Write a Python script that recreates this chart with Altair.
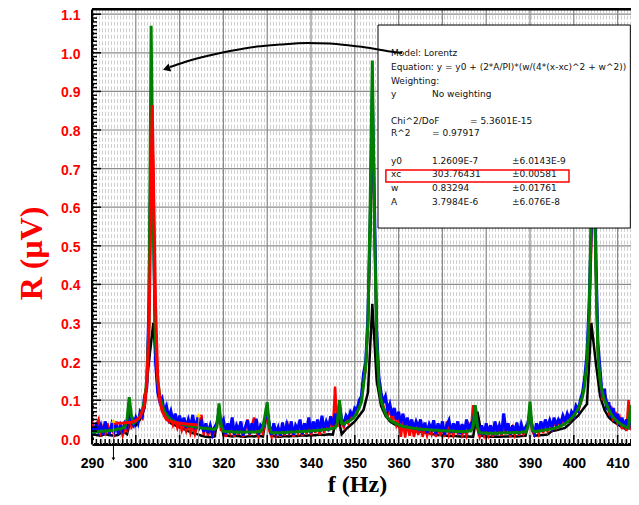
import altair as alt
import pandas as pd

# ------------------------------------------------------------------ data
# sweep frequency (Hz) for the 0.5 Hz sampled traces, 290 ... 415
freq = [round(290 + 0.5 * i, 1) for i in range(251)]
# black trace sampled every 1 Hz
freq_black = list(range(290, 416))

green = [
    0.018, 0.017, 0.019, 0.018, 0.020, 0.019, 0.021, 0.020, 0.022, 0.021,
    0.023, 0.024, 0.026, 0.025, 0.028, 0.030, 0.050, 0.108, 0.060, 0.040,
    0.045, 0.050, 0.060, 0.075, 0.100, 0.150, 0.300, 1.070, 0.550, 0.250,
    0.150, 0.110, 0.088, 0.072, 0.062, 0.055, 0.050, 0.046, 0.044, 0.042,
    0.040, 0.038, 0.037, 0.035, 0.034, 0.033, 0.032, 0.031, 0.030, 0.029,
    0.028, 0.027, 0.027, 0.026, 0.026, 0.025, 0.025, 0.030, 0.092, 0.035,
    0.020, 0.019, 0.018, 0.019, 0.018, 0.017, 0.018, 0.017, 0.018, 0.017,
    0.017, 0.018, 0.017, 0.018, 0.017, 0.018, 0.019, 0.018, 0.030, 0.060,
    0.095, 0.030, 0.016, 0.015, 0.016, 0.015, 0.016, 0.017, 0.016, 0.017,
    0.017, 0.018, 0.017, 0.018, 0.019, 0.018, 0.019, 0.020, 0.019, 0.020,
    0.020, 0.021, 0.021, 0.022, 0.022, 0.023, 0.024, 0.024, 0.025, 0.026,
    0.027, 0.028, 0.040, 0.100, 0.040, 0.038, 0.042, 0.045, 0.048, 0.052,
    0.058, 0.068, 0.080, 0.095, 0.140, 0.190, 0.300, 0.600, 0.980, 0.550,
    0.250, 0.140, 0.100, 0.080, 0.065, 0.055, 0.049, 0.045, 0.042, 0.039,
    0.036, 0.034, 0.032, 0.031, 0.030, 0.029, 0.028, 0.027, 0.026, 0.026,
    0.025, 0.025, 0.024, 0.024, 0.023, 0.023, 0.022, 0.022, 0.022, 0.021,
    0.021, 0.021, 0.020, 0.020, 0.020, 0.020, 0.019, 0.019, 0.019, 0.019,
    0.019, 0.019, 0.020, 0.020, 0.030, 0.087, 0.030, 0.016, 0.015, 0.015,
    0.015, 0.014, 0.015, 0.014, 0.015, 0.014, 0.015, 0.015, 0.016, 0.015,
    0.016, 0.015, 0.016, 0.016, 0.017, 0.016, 0.017, 0.018, 0.017, 0.030,
    0.096, 0.025, 0.018, 0.019, 0.020, 0.021, 0.022, 0.023, 0.024, 0.025,
    0.026, 0.027, 0.029, 0.031, 0.033, 0.036, 0.039, 0.043, 0.048, 0.054,
    0.060, 0.068, 0.078, 0.092, 0.110, 0.140, 0.200, 0.320, 0.600, 0.900,
    0.450, 0.220, 0.150, 0.120, 0.100, 0.088, 0.075, 0.065, 0.056, 0.050,
    0.044, 0.040, 0.036, 0.033, 0.030, 0.028, 0.087, 0.030, 0.022, 0.020,
    0.020,
]

blue = [
    0.030, 0.012, 0.042, 0.020, 0.035, 0.010, 0.045, 0.025, 0.015, 0.038,
    0.020, 0.044, 0.012, 0.035, 0.022, 0.040, 0.030, 0.092, 0.045, 0.035,
    0.055, 0.040, 0.070, 0.060, 0.110, 0.130, 0.350, 0.800, 0.600, 0.200,
    0.120, 0.095, 0.105, 0.070, 0.085, 0.055, 0.072, 0.045, 0.065, 0.040,
    0.060, 0.035, 0.055, 0.028, 0.050, 0.030, 0.062, 0.025, 0.048, 0.030,
    0.045, 0.018, 0.040, 0.015, 0.035, 0.012, 0.030, 0.040, 0.070, 0.040,
    0.050, 0.012, 0.040, 0.020, 0.055, 0.010, 0.035, 0.022, 0.045, 0.008,
    0.030, 0.048, 0.012, 0.040, 0.018, 0.052, 0.010, 0.035, 0.028, 0.050,
    0.075, 0.035, 0.010, 0.040, 0.015, 0.030, 0.008, 0.042, 0.012, 0.038,
    0.020, 0.045, 0.010, 0.035, 0.025, 0.050, 0.012, 0.040, 0.020, 0.055,
    0.015, 0.045, 0.025, 0.050, 0.018, 0.060, 0.022, 0.045, 0.030, 0.058,
    0.035, 0.065, 0.045, 0.090, 0.050, 0.040, 0.060, 0.050, 0.070, 0.060,
    0.080, 0.075, 0.100, 0.110, 0.170, 0.200, 0.320, 0.550, 0.900, 0.600,
    0.280, 0.160, 0.120, 0.095, 0.110, 0.075, 0.090, 0.060, 0.080, 0.050,
    0.070, 0.040, 0.065, 0.035, 0.055, 0.030, 0.050, 0.025, 0.045, 0.030,
    0.050, 0.020, 0.042, 0.015, 0.038, 0.025, 0.048, 0.012, 0.040, 0.020,
    0.045, 0.010, 0.035, 0.048, 0.015, 0.040, 0.020, 0.045, 0.012, 0.038,
    0.015, 0.050, 0.020, 0.040, 0.045, 0.075, 0.035, 0.012, 0.035, 0.010,
    0.040, 0.015, 0.035, 0.010, 0.045, 0.020, 0.035, 0.012, 0.066, 0.020,
    0.040, 0.010, 0.035, 0.015, 0.042, 0.012, 0.038, 0.020, 0.030, 0.040,
    0.070, 0.030, 0.015, 0.040, 0.020, 0.045, 0.025, 0.050, 0.030, 0.048,
    0.030, 0.055, 0.035, 0.050, 0.040, 0.060, 0.045, 0.065, 0.050, 0.070,
    0.060, 0.085, 0.075, 0.100, 0.120, 0.160, 0.220, 0.350, 0.550, 0.800,
    0.500, 0.250, 0.180, 0.110, 0.130, 0.075, 0.095, 0.055, 0.080, 0.045,
    0.065, 0.035, 0.055, 0.030, 0.050, 0.025, 0.060, 0.045, 0.035, 0.050,
    0.030,
]

red = [
    0.045, 0.020, 0.035, 0.050, 0.015, 0.030, 0.010, 0.040, 0.020, 0.030,
    0.012, 0.035, 0.018, 0.030, 0.008, 0.025, 0.020, 0.060, 0.030, 0.040,
    0.050, 0.045, 0.065, 0.055, 0.100, 0.140, 0.300, 0.850, 0.700, 0.260,
    0.140, 0.100, 0.080, 0.065, 0.060, 0.045, 0.055, 0.035, 0.050, 0.028,
    0.045, 0.022, 0.040, 0.020, 0.038, 0.015, 0.035, 0.012, 0.030, 0.040,
    0.062, 0.010, 0.035, 0.008, 0.030, 0.005, 0.025, 0.035, 0.060, 0.020,
    0.040, 0.005, 0.030, 0.015, 0.045, 0.005, 0.030, 0.010, 0.040, 0.005,
    0.025, 0.050, 0.008, 0.035, 0.055, 0.020, 0.005, 0.030, 0.015, 0.040,
    0.065, 0.020, 0.005, 0.035, 0.008, 0.025, 0.005, 0.030, 0.008, 0.045,
    0.010, 0.040, 0.005, 0.030, 0.015, 0.045, 0.008, 0.035, 0.012, 0.048,
    0.008, 0.040, 0.015, 0.045, 0.010, 0.050, 0.015, 0.040, 0.020, 0.050,
    0.025, 0.135, 0.030, 0.080, 0.040, 0.030, 0.050, 0.040, 0.060, 0.055,
    0.070, 0.065, 0.090, 0.100, 0.150, 0.180, 0.300, 0.500, 0.850, 0.550,
    0.260, 0.150, 0.110, 0.085, 0.070, 0.060, 0.075, 0.045, 0.065, 0.035,
    0.050, 0.005, 0.045, 0.003, 0.040, 0.008, 0.035, 0.005, 0.030, 0.010,
    0.035, 0.005, 0.030, 0.008, 0.028, 0.012, 0.035, 0.005, 0.030, 0.008,
    0.030, 0.005, 0.045, 0.010, 0.025, 0.008, 0.030, 0.015, 0.035, 0.010,
    0.025, 0.008, 0.035, 0.020, 0.087, 0.060, 0.025, 0.005, 0.025, 0.008,
    0.030, 0.008, 0.025, 0.005, 0.035, 0.010, 0.030, 0.008, 0.040, 0.012,
    0.030, 0.005, 0.028, 0.010, 0.032, 0.008, 0.030, 0.012, 0.025, 0.035,
    0.080, 0.020, 0.010, 0.030, 0.012, 0.035, 0.015, 0.040, 0.020, 0.040,
    0.025, 0.045, 0.030, 0.045, 0.035, 0.050, 0.040, 0.055, 0.045, 0.060,
    0.055, 0.075, 0.070, 0.090, 0.110, 0.150, 0.200, 0.300, 0.500, 0.750,
    0.450, 0.230, 0.160, 0.100, 0.120, 0.100, 0.070, 0.085, 0.045, 0.070,
    0.040, 0.055, 0.025, 0.045, 0.020, 0.100, 0.030, 0.015, 0.040, 0.020,
    0.025,
]

black = [
    0.012, 0.010, 0.008, 0.012, 0.010, 0.008, 0.010, 0.020, 0.012, 0.060,
    0.035, 0.050, 0.080, 0.200, 0.300, 0.130, 0.080, 0.055, 0.040, 0.035,
    0.030, 0.025, 0.020, 0.015, 0.012, 0.008, 0.005, 0.004, 0.006, 0.070,
    0.010, 0.008, 0.006, 0.008, 0.006, 0.005, 0.007, 0.006, 0.008, 0.006,
    0.070, 0.008, 0.006, 0.005, 0.007, 0.006, 0.008, 0.007, 0.009, 0.008,
    0.010, 0.009, 0.011, 0.010, 0.012, 0.011, 0.070, 0.012, 0.025, 0.035,
    0.045, 0.060, 0.075, 0.120, 0.350, 0.150, 0.085, 0.060, 0.045, 0.038,
    0.032, 0.028, 0.025, 0.022, 0.020, 0.018, 0.016, 0.014, 0.012, 0.010,
    0.009, 0.008, 0.007, 0.007, 0.006, 0.006, 0.006, 0.005, 0.070, 0.008,
    0.006, 0.005, 0.006, 0.005, 0.006, 0.006, 0.007, 0.006, 0.007, 0.008,
    0.060, 0.008, 0.009, 0.010, 0.011, 0.020, 0.022, 0.025, 0.028, 0.038,
    0.050, 0.060, 0.075, 0.090, 0.300, 0.200, 0.110, 0.075, 0.055, 0.045,
    0.038, 0.030, 0.025, 0.080, 0.018, 0.015,
]

# Lorentz fit curve (red, smooth)
fit_freq = [295, 297, 299, 300, 301, 302, 302.5, 303, 303.3, 303.5, 303.76,
            304, 304.2, 304.5, 305, 305.5, 306, 307, 308, 310, 312, 314.3]
fit_R = [0.040, 0.041, 0.043, 0.047, 0.057, 0.087, 0.140, 0.280, 0.480, 0.670,
         0.865, 0.690, 0.550, 0.350, 0.160, 0.098, 0.072, 0.050, 0.045, 0.040,
         0.038, 0.036]

# data-reader cursors
cursor_f = [294.9, 314.3]
cursor_R = [0.047, 0.062]

x_ticks = [290, 300, 310, 320, 330, 340, 350, 360, 370, 380, 390, 400, 410]
y_ticks = [0.0, 0.1, 0.2, 0.3, 0.4, 0.5, 0.6, 0.7, 0.8, 0.9, 1.0, 1.1]

# annotation: curved arrow
arrow_f = [360.78, 358.04, 353.47, 348.90, 344.34, 339.09, 332.92, 327.67,
           321.51, 316.26, 311.23, 307.81]
arrow_R = [0.9995, 1.0034, 1.0124, 1.0189, 1.0241, 1.0254, 1.0215, 1.0163,
           1.0047, 0.9917, 0.9762, 0.9632]
arrow_head = (307.0, 0.9590)

# annotation: fit result box
c1, c2, c2b, c3 = 358.26, 367.63, 376.30, 385.89
box_lines = [
    ("Model: Lorentz", c1, 0.9987),
    ("Equation: y = y0 + (2*A/PI)*(w/(4*(x-xc)^2 + w^2))", c1, 0.9640),
    ("Weighting:", c1, 0.9277),
    ("y", c1, 0.8933), ("No weighting", c2, 0.8933),
    ("Chi^2/DoF", c1, 0.8241), ("= 5.3601E-15", c2b, 0.8241),
    ("R^2", c1, 0.7915), ("=  0.97917", c2, 0.7915),
    ("y0", c1, 0.7205), ("1.2609E-7", c2, 0.7205), ("±6.0143E-9", c3, 0.7205),
    ("xc", c1, 0.6852), ("303.76431", c2, 0.6852), ("±0.00581", c3, 0.6852),
    ("w", c1, 0.6505), ("0.83294", c2, 0.6505), ("±0.01761", c3, 0.6505),
    ("A", c1, 0.6142), ("3.7984E-6", c2, 0.6142), ("±6.076E-8", c3, 0.6142),
]
hl_extent = dict(f=357.1, f2=398.9, R=0.6653, R2=0.6964)

# ------------------------------------------------------------------ chart
W, H = 539, 435
XMAX = 290 + W / 4.38
box_extent = dict(f=355.3, f2=XMAX - 0.15, R=0.546, R2=1.072)
xs = alt.Scale(domain=[290, XMAX], nice=False, zero=False)
ys = alt.Scale(domain=[-0.0135, 1.1135], nice=False, zero=False)

x_axis = alt.Axis(
    values=x_ticks, format="d", title="f (Hz)", grid=False, ticks=False,
    labelFont="Liberation Sans", labelFontWeight="bold", labelFontSize=14,
    labelColor="black", labelPadding=12, labelFlush=False, labelOverlap=False,
    domain=True, domainColor="black", domainWidth=3,
    titleFont="Liberation Serif", titleFontWeight="bold", titleFontSize=24,
    titleColor="black", titleX=265, titleY=40, titleBaseline="middle",
    titleAlign="center",
)
y_axis = alt.Axis(
    values=y_ticks, format=".1f", title="R (μV)", grid=False, ticks=False,
    labelFont="Liberation Sans", labelFontWeight="bold", labelFontSize=14,
    labelColor="#ff0000", labelPadding=12, labelFlush=False, labelOverlap=False,
    labelOffset=1.5,
    domain=True, domainColor="black", domainWidth=3,
    titleFont="Liberation Serif", titleFontWeight="bold", titleFontSize=32,
    titleColor="#ff0000", titleX=-61, titleY=244, titleBaseline="middle",
    titleAlign="center", titleAngle=270,
)


# every layer carries the very same axis definition, so they merge cleanly
def X(field="f"):
    return alt.X(f"{field}:Q", scale=xs, axis=x_axis, title="f (Hz)")


def Y(field="R"):
    return alt.Y(f"{field}:Q", scale=ys, axis=y_axis, title="R (μV)")


# background texture rows and grid
tex_df = pd.DataFrame({"R": [round((k + 0.5) / 60, 4) for k in range(-1, 67)]})
texture = alt.Chart(tex_df).mark_rule(
    color="#cfcfcf", strokeWidth=4, strokeDash=[1, 2], clip=True
).encode(y=Y())

vgrid = alt.Chart(pd.DataFrame({"f": x_ticks[1:]})).mark_rule(
    color="#8a8a8a", strokeWidth=1.2).encode(x=X())
hgrid = alt.Chart(pd.DataFrame({"R": y_ticks[1:]})).mark_rule(
    color="#8a8a8a", strokeWidth=1.2).encode(y=Y())


def trace(f, v, color, width):
    df = pd.DataFrame({"f": f, "R": v})
    return alt.Chart(df).mark_line(
        color=color, strokeWidth=width, clip=True, strokeJoin="miter"
    ).encode(x=X(), y=Y())


t_black = trace(freq_black, black, "#000000", 2.5)
t_red = trace(freq, red, "#ff0000", 2.5)
t_blue = trace(freq, blue, "#0000ff", 3)
t_green = trace(freq, green, "#008000", 3)
t_fit = trace(fit_freq, fit_R, "#ff0000", 3)

cur_df = pd.DataFrame({"f": cursor_f, "R": cursor_R, "R0": [-0.0135, -0.0135]})
cursor_lines = alt.Chart(cur_df).mark_rule(color="#8c8c8c", strokeWidth=1).encode(
    x=X(), y=Y(), y2="R0:Q")
cursor_pts = alt.Chart(cur_df).mark_point(
    shape="triangle-up", filled=True, color="#ffd700", size=25, opacity=1
).encode(x=X(), y=Y())
cur_below_df = pd.DataFrame({"f": cursor_f[:1]})
cursor_below = alt.Chart(cur_below_df).mark_rule(color="black", strokeWidth=1).encode(
    x=X(), y=alt.value(H), y2=alt.value(H + 15))
cursor_below_tip = alt.Chart(cur_below_df).mark_point(
    shape="triangle-down", filled=True, color="black", size=14, opacity=1
).encode(x=X(), y=alt.value(H + 15))

# inward ticks
minor_x = pd.DataFrame({"f": [v for v in range(291, 414) if v % 10 != 0]})
major_x = pd.DataFrame({"f": x_ticks[1:]})
minor_y = pd.DataFrame({"R": [round(v / 100, 2) for v in range(1, 111) if v % 10 != 0]})
major_y = pd.DataFrame({"R": y_ticks[1:]})
tx_min = alt.Chart(minor_x).mark_rule(color="black", strokeWidth=1.5).encode(
    x=X(), y=alt.value(H - 5), y2=alt.value(H))
tx_maj = alt.Chart(major_x).mark_rule(color="black", strokeWidth=1.5).encode(
    x=X(), y=alt.value(H - 9), y2=alt.value(H))
ty_min = alt.Chart(minor_y).mark_rule(color="black", strokeWidth=1.5).encode(
    y=Y(), x=alt.value(0), x2=alt.value(5))
ty_maj = alt.Chart(major_y).mark_rule(color="black", strokeWidth=1.5).encode(
    y=Y(), x=alt.value(0), x2=alt.value(9))
top_border = alt.Chart(pd.DataFrame({"a": [0]})).mark_rule(
    color="black", strokeWidth=3).encode(
    y=alt.value(0), x=alt.value(0), x2=alt.value(W))

# annotation box
box = alt.Chart(pd.DataFrame([box_extent])).mark_rect(
    fill="white", stroke="black", strokeWidth=1, clip=True
).encode(x=X(), x2="f2:Q", y=Y(), y2="R2:Q")
box_text = alt.Chart(pd.DataFrame(box_lines, columns=["t", "f", "R"])).mark_text(
    align="left", baseline="middle", font="DejaVu Sans", fontSize=9,
    color="#111111"
).encode(x=X(), y=Y(), text="t:N")
hl = alt.Chart(pd.DataFrame([hl_extent])).mark_rect(
    fill=None, fillOpacity=0, stroke="#ff0000", strokeWidth=1.5
).encode(x=X(), x2="f2:Q", y=Y(), y2="R2:Q")

arrow_df = pd.DataFrame({"f": arrow_f, "R": arrow_R, "o": list(range(len(arrow_f)))})
arrow = alt.Chart(arrow_df).mark_line(
    color="black", strokeWidth=2, interpolate="monotone"
).encode(x=X(), y=Y(), order="o:Q")
arrow_tip = alt.Chart(pd.DataFrame({"f": [arrow_head[0]], "R": [arrow_head[1]]})).mark_point(
    shape="triangle-up", filled=True, color="black", size=70, angle=252, opacity=1
).encode(x=X(), y=Y())

chart = alt.layer(
    texture, vgrid, hgrid,
    t_black, t_red, t_blue, t_green, t_fit,
    cursor_lines, cursor_pts, cursor_below, cursor_below_tip,
    tx_min, tx_maj, ty_min, ty_maj, top_border,
    box, box_text, hl, arrow, arrow_tip,
).properties(
    width=W, height=H,
    autosize=alt.AutoSizeParams(type="none"),
    padding={"left": 84, "top": 1, "right": 0, "bottom": 53},
).configure(background="white").configure_view(stroke=None)

chart.save("out.html", embed_options={"renderer": "svg", "actions": False})
